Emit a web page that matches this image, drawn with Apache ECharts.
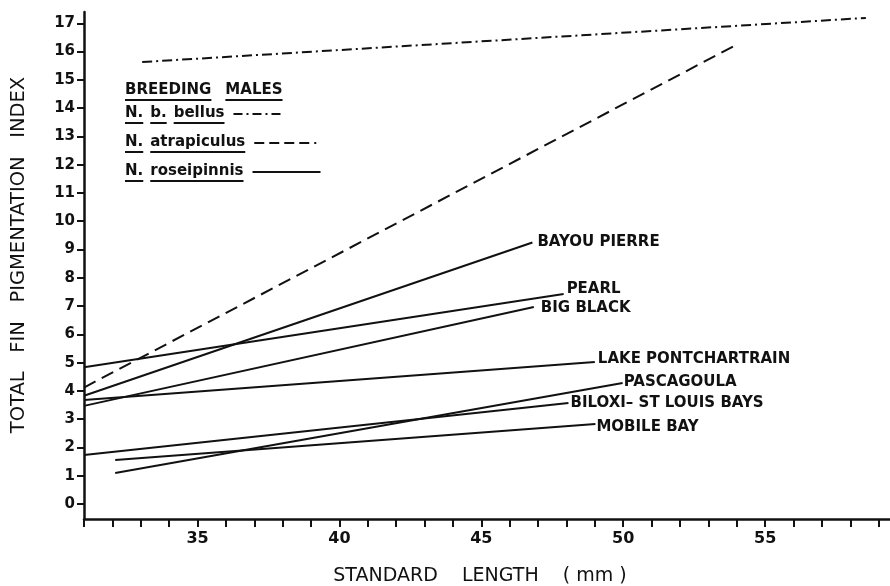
<!DOCTYPE html>
<html>
<head>
<meta charset="utf-8">
<script src="https://cdn.jsdelivr.net/npm/echarts@6/dist/echarts.min.js"></script>
<style>
html,body{margin:0;padding:0;background:#fff;}
#chart{width:890px;height:586px;}
</style>
</head>
<body>
<div id="chart"></div>
<script>
// ---- data ----
const regions = ['BAYOU PIERRE', 'PEARL', 'BIG BLACK', 'LAKE PONTCHARTRAIN', 'PASCAGOULA', 'BILOXI– ST LOUIS BAYS', 'MOBILE BAY'];
const roseStartLength = [31.0, 31.0, 31.0, 31.0, 32.1, 31.0, 32.1];
const roseStartIndex  = [3.83, 4.84, 3.47, 3.68, 1.10, 1.73, 1.56];
const roseEndLength   = [46.8, 47.9, 46.85, 49.0, 49.98, 48.07, 49.02];
const roseEndIndex    = [9.25, 7.43, 6.97, 5.02, 4.28, 3.57, 2.83];

const bellusLength = [33.05, 58.55];
const bellusIndex  = [15.63, 17.19];
const atrapLength  = [31.0, 53.95];
const atrapIndex   = [4.12, 16.22];

const yTickValues = [0,1,2,3,4,5,6,7,8,9,10,11,12,13,14,15,16,17];
const xTickValues = [31,32,33,34,35,36,37,38,39,40,41,42,43,44,45,46,47,48,49,50,51,52,53,54,55,56,57,58,59];
const xLabelValues = [35,40,45,50,55];

const legendTitle = ['BREEDING', 'MALES'];
const legendRows = [
  [['N.', true], ['b.', true], ['bellus', true]],
  [['N.', true], ['atrapiculus', true]],
  [['N.', true], ['roseipinnis', true]]
];
const xTitle = 'STANDARD    LENGTH    ( mm )';
const yTitle = 'TOTAL   FIN   PIGMENTATION   INDEX';

// ---- styles ----
const INK = '#111';
const labelFont = 'DejaVu Sans';
const labelOffsets = [[2,0],[0,-5],[4,1],[0,-3],[-2,-1],[-1,0],[-2,3]];

const series = [];
regions.forEach((name, i) => {
  series.push({
    type: 'line', name: name, symbol: 'none', silent: true,
    lineStyle: {color: INK, width: 2},
    data: [[roseStartLength[i], roseStartIndex[i]], [roseEndLength[i], roseEndIndex[i]]],
    endLabel: {
      show: true, formatter: name, distance: 3, offset: labelOffsets[i],
      color: INK, fontFamily: labelFont, fontWeight: 'bold', fontSize: 15
    }
  });
});
series.push({
  type: 'line', name: 'N. b. bellus', symbol: 'none', silent: true,
  lineStyle: {color: INK, width: 2, type: [10, 4, 2, 4]},
  data: bellusLength.map((x, i) => [x, bellusIndex[i]])
});
series.push({
  type: 'line', name: 'N. atrapiculus', symbol: 'none', silent: true,
  lineStyle: {color: INK, width: 2, type: [13, 7]},
  data: atrapLength.map((x, i) => [x, atrapIndex[i]])
});

// ---- legend block (graphic) ----
const ctx = document.createElement('canvas').getContext('2d');
const legFont = 'bold 15px "DejaVu Sans"';
function tw(t){ ctx.font = legFont; return ctx.measureText(t).width; }
const graphic = [];
function addWords(words, x0, yc, gap){
  let x = x0;
  words.forEach(([t, u]) => {
    const w = tw(t);
    graphic.push({type:'text', x: x, y: yc, style:{text: t, font: legFont, fill: INK, verticalAlign:'middle', align:'left'}});
    if (u) graphic.push({type:'line', shape:{x1: x, y1: yc + 10, x2: x + w, y2: yc + 10}, style:{stroke: INK, lineWidth: 2}});
    x += w + gap;
  });
  return x;
}
addWords(legendTitle.map(t => [t, true]), 125, 90, 14);
const rowY = [113, 142, 171];
const sampleLen = [48, 62, 68];
const sampleDash = [[9, 4, 2, 4], [10, 5], null];
legendRows.forEach((row, r) => {
  const end = addWords(row, 125, rowY[r], 7);
  const x1 = end + 2;
  graphic.push({type:'line', shape:{x1: x1, y1: rowY[r] + 1, x2: x1 + sampleLen[r], y2: rowY[r] + 1},
    style:{stroke: INK, lineWidth: 2, lineDash: sampleDash[r]}});
});
graphic.push({type:'text', x: 480, y: 576, style:{text: xTitle, font: '19px "DejaVu Sans"', fill: INK, align:'center', verticalAlign:'middle'}});
graphic.push({type:'text', x: 19, y: 255, rotation: Math.PI / 2, style:{text: yTitle, font: '19.5px "DejaVu Sans"', fill: INK, align:'center', verticalAlign:'middle'}});

const chart = echarts.init(document.getElementById('chart'), null, {renderer: 'canvas'});
chart.setOption({
  animation: false,
  backgroundColor: '#fff',
  grid: {left: 84, right: 0, top: 12, bottom: 67, outerBoundsMode: 'none', containLabel: false},
  xAxis: {
    type: 'value', min: 31, max: 59.4,
    axisLine: {onZero: false, lineStyle: {color: INK, width: 2.5}},
    axisTick: {show: true, length: 8, customValues: xTickValues, lineStyle: {color: INK, width: 2}},
    axisLabel: {customValues: xLabelValues, margin: 12, color: INK, fontFamily: labelFont, fontWeight: 'bold', fontSize: 16},
    splitLine: {show: false}
  },
  yAxis: {
    type: 'value', min: -0.53, max: 17.4,
    axisLine: {show: true, onZero: false, lineStyle: {color: INK, width: 2.5}},
    axisTick: {show: true, length: 7, customValues: yTickValues, lineStyle: {color: INK, width: 2}},
    axisLabel: {customValues: yTickValues, margin: 9, color: INK, fontFamily: labelFont, fontWeight: 'bold', fontSize: 15},
    splitLine: {show: false}
  },
  series: series,
  graphic: graphic
});
</script>
</body>
</html>
